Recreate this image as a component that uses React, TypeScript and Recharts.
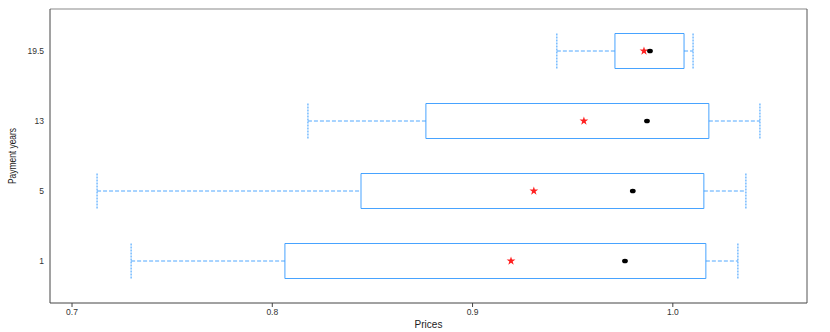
import React from 'react';
import {
  ScatterChart, Scatter, XAxis, YAxis, ReferenceArea, ReferenceLine, Symbols,
} from 'recharts';

const categories = ['1', '5', '13', '19.5'];
const whiskerLow = [0.7295, 0.7125, 0.8178, 0.9421];
const q1 = [0.8063, 0.8443, 0.8767, 0.9711];
const median = [0.9761, 0.98, 0.9871, 0.9886];
const mean = [0.9192, 0.9306, 0.9556, 0.9856];
const q3 = [1.0165, 1.0155, 1.018, 1.0056];
const whiskerHigh = [1.0325, 1.0365, 1.0435, 1.0101];
const xTicks = [0.7, 0.8, 0.9, 1.0];
const xDomain = [0.689, 1.067];
const yDomain = [0.4, 4.6];

const BLUE = '#3399ff';
const FONT = '"Liberation Sans", Arial, sans-serif';
const HALF = 0.25;

const medianData = categories.map((c, i) => ({ x: median[i], y: i + 1 }));
const meanData = categories.map((c, i) => ({ x: mean[i], y: i + 1 }));

const MedianShape = (p: any) => (
  <ellipse cx={p.cx} cy={p.cy} rx={2.9} ry={2.3} fill="#000" />
);
const MeanShape = (p: any) => (
  <Symbols cx={p.cx} cy={p.cy} type="star" size={24} fill="#ff2020" stroke="none" />
);

const YLabel = (props: any) => {
  const vb = props.viewBox || { x: 0, y: 0, width: 50, height: 0 };
  const cx = vb.x + 12;
  const cy = vb.y + vb.height / 2;
  return (
    <text
      x={cx}
      y={cy}
      transform={`rotate(-90 ${cx} ${cy})`}
      textAnchor="middle"
      dominantBaseline="central"
      fontSize={11}
      fill="#222"
      fontFamily={FONT}
      textLength={56}
      lengthAdjust="spacingAndGlyphs"
    >
      Payment years
    </text>
  );
};

export default function App() {
  return (
    <div style={{ position: 'absolute', left: 0, top: 0, background: '#fff' }}>
      <ScatterChart
        width={830}
        height={332}
        margin={{ top: 9, right: 23, bottom: 0, left: 0 }}
      >
        <XAxis
          type="number"
          dataKey="x"
          domain={xDomain}
          allowDataOverflow
          ticks={xTicks}
          tickFormatter={(v: number) => v.toFixed(1)}
          height={29}
          axisLine={{ stroke: '#444' }}
          tickLine={{ stroke: '#444' }}
          tickSize={4}
          tickMargin={2}
          tick={{ fontSize: 8.5, fill: '#333', fontFamily: FONT }}
          label={{ value: 'Prices', position: 'insideBottom', offset: 4, fontSize: 10, fill: '#222', fontFamily: FONT }}
        />
        <YAxis
          type="number"
          dataKey="y"
          domain={yDomain}
          allowDataOverflow
          ticks={[1, 2, 3, 4]}
          tickFormatter={(v: number) => categories[v - 1]}
          width={50}
          axisLine={{ stroke: '#444' }}
          tickLine={false}
          tickSize={2}
          tickMargin={4}
          tick={{ fontSize: 8.5, fill: '#333', fontFamily: FONT }}
          label={<YLabel />}
        />
        <ReferenceLine
          segment={[{ x: xDomain[0], y: yDomain[1] }, { x: xDomain[1], y: yDomain[1] }]}
          stroke="#b0b0b0"
          strokeWidth={1.5}
          ifOverflow="visible"
        />
        <ReferenceLine
          segment={[{ x: xDomain[1], y: yDomain[0] }, { x: xDomain[1], y: yDomain[1] }]}
          stroke="#555"
          ifOverflow="visible"
        />
        {categories.map((c, i) => (
          <React.Fragment key={c}>
            <ReferenceLine
              segment={[{ x: whiskerLow[i], y: i + 1 }, { x: q1[i], y: i + 1 }]}
              stroke={BLUE}
              strokeOpacity={0.85}
              strokeDasharray="4 2"
              ifOverflow="visible"
            />
            <ReferenceLine
              segment={[{ x: q3[i], y: i + 1 }, { x: whiskerHigh[i], y: i + 1 }]}
              stroke={BLUE}
              strokeOpacity={0.85}
              strokeDasharray="4 2"
              ifOverflow="visible"
            />
            <ReferenceLine
              segment={[{ x: whiskerLow[i], y: i + 1 - HALF }, { x: whiskerLow[i], y: i + 1 + HALF }]}
              stroke={BLUE}
              strokeDasharray="2 1"
              ifOverflow="visible"
            />
            <ReferenceLine
              segment={[{ x: whiskerHigh[i], y: i + 1 - HALF }, { x: whiskerHigh[i], y: i + 1 + HALF }]}
              stroke={BLUE}
              strokeDasharray="2 1"
              ifOverflow="visible"
            />
            <ReferenceArea
              x1={q1[i]}
              x2={q3[i]}
              y1={i + 1 - HALF}
              y2={i + 1 + HALF}
              fill="#fff"
              fillOpacity={0}
              stroke={BLUE}
              strokeOpacity={0.9}
              ifOverflow="visible"
            />
          </React.Fragment>
        ))}
        <Scatter data={meanData} shape={MeanShape} isAnimationActive={false} />
        <Scatter data={medianData} shape={MedianShape} isAnimationActive={false} />
      </ScatterChart>
    </div>
  );
}
